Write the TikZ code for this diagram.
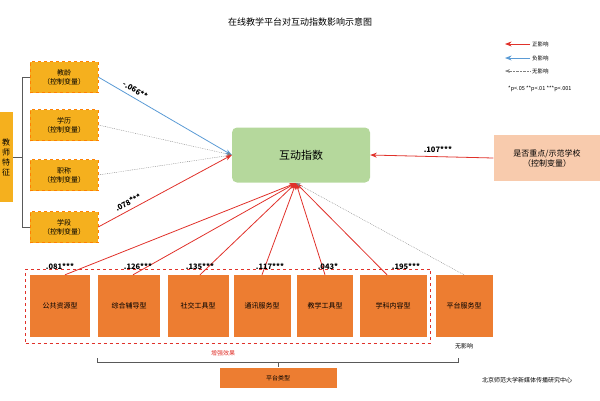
\documentclass[tikz,border=0pt]{standalone}
\usepackage{fontspec}
\setmainfont{Noto Sans CJK SC}
\usetikzlibrary{arrows.meta}
\definecolor{zhengred}{HTML}{E0312A}
\definecolor{fublue}{HTML}{5B9BD5}
\definecolor{gold}{HTML}{F5B01E}
\definecolor{cheng}{HTML}{ED7D31}
\definecolor{lvse}{HTML}{B5D89C}
\definecolor{fenju}{HTML}{F8CBAD}

\begin{document}
\begin{tikzpicture}[x=1pt,y=-1pt]
    \useasboundingbox (0,0) rectangle (600,400);
    \node (title) at (300,22) {\fontsize{9}{11}\selectfont 在线教学平台对互动指数影响示意图};
    % legend
    \coordinate (lp1) at (530,44); \coordinate (lp0) at (505,44);
    \coordinate (lb1) at (530,58); \coordinate (lb0) at (505,58);
    \coordinate (ln1) at (530,71); \coordinate (ln0) at (505,71);
    \draw [-{Stealth}, zhengred, thick] (lp1) -- (lp0);
    \draw [-{Stealth}, fublue, thick] (lb1) -- (lb0);
    \draw [-{Stealth}, gray, densely dotted] (ln1) -- (ln0);
    \begin{scope}[every node/.style={anchor=west,inner sep=1pt,font=\fontsize{5.5}{6}\selectfont}]
        \node (zheng) at (531,44) {正影响};
        \node (fu) at (531,58) {负影响};
        \node (wu) at (531,71) {无影响};
        \node (pval) at (507,89) {*p<.05 **p<.01 ***p<.001};
    \end{scope}

    \begin{scope}[every node/.style={draw=orange,dashed,fill=gold,
        minimum width=68,minimum height=31,align=center,font=\fontsize{7}{9}\selectfont}]
        \node (jiaoling) at (64,77) {教龄\\（控制变量）};
        \node (xueli) at (64,125) {学历\\（控制变量）};
        \node (zhicheng) at (64,175) {职称\\（控制变量）};
        \node (xueduan) at (64,227) {学段\\（控制变量）};
    \end{scope}
    \node [fill=gold,minimum width=14,minimum height=90,inner sep=0,
        font=\fontsize{8}{10}\selectfont,align=center] (tezheng) at (6,157) {教\\师\\特\\征};
    \coordinate (kt) at (22,77); \coordinate (kb) at (22,227); \coordinate (km) at (22,157);
    \draw [gray!70!black] (jiaoling.west) -- (kt) -- (kb) -- (xueduan.west);
    \draw [gray!70!black] (km) -- (tezheng.east);

    \node [rounded corners=5,fill=lvse,minimum width=138,minimum height=55,
        font=\fontsize{11}{13}\selectfont] (hudong) at (301,155) {互动指数};
    \node [fill=fenju,minimum width=107,minimum height=46,align=center,
        font=\fontsize{8}{10}\selectfont] (zhongdian) at (547,158) {是否重点/示范学校\\（控制变量）};

    \begin{scope}[every node/.style={fill=cheng,minimum height=62,
        font=\fontsize{7}{9}\selectfont}]
        \node [minimum width=60] (gonggong) at (60,306) {公共资源型};
        \node [minimum width=62] (zonghe) at (129,306) {综合辅导型};
        \node [minimum width=61] (shejiao) at (198,306) {社交工具型};
        \node [minimum width=57] (tongxun) at (262,306) {通讯服务型};
        \node [minimum width=56] (jiaoxue) at (325,306) {教学工具型};
        \node [minimum width=67] (xueke) at (393,306) {学科内容型};
        \node [minimum width=57] (pingtai) at (464,306) {平台服务型};
    \end{scope}
    \node [draw=zhengred,dashed,thick,minimum width=405,minimum height=74] (zengqiang) at (228,306) {};
    \node [zhengred,font=\fontsize{6}{7}\selectfont] (xiaoguo) at (223,353) {增强效果};
    \node [font=\fontsize{6}{7}\selectfont] (wuying) at (464,346) {无影响};
    \coordinate (bl) at (97,358); \coordinate (br) at (458,358);
    \coordinate (bl1) at (97,362); \coordinate (br1) at (458,362);
    \coordinate (bm) at (278,362); \coordinate (bm1) at (278,367);
    \draw [gray!70!black] (bl) -- (bl1) -- (br1) -- (br) (bm) -- (bm1);
    \node [fill=cheng,minimum width=117,minimum height=20,
        font=\fontsize{6}{7}\selectfont] (leixing) at (278,378) {平台类型};
    \node [font=\fontsize{6}{7}\selectfont] (beishi) at (527,380) {北京师范大学新媒体传播研究中心};

    \coordinate (hb) at (296,183);
    \begin{scope}[>={Stealth}, every node/.style={font=\fontsize{7.5}{9}\selectfont\bfseries,inner sep=4pt},
        every edge/.style={draw=zhengred,thick}]
        \path [->] (jiaoling.east) edge[draw=fublue] node[above,sloped,pos=0.25] {-.066**} (hudong.west);
        \path [->] (xueli.east) edge[draw=gray,densely dotted,thin] (hudong.west);
        \path [->] (zhicheng.east) edge[draw=gray,densely dotted,thin] (hudong.west);
        \path [->] (xueduan.east) edge node[above,sloped,pos=0.25] {.078***} (hudong.west);
        \path [->] (zhongdian.west) edge node[above,pos=0.45] {.107***} (hudong.east);
        \path [->] ([xshift=5]gonggong.north) edge (hb);
        \path [->] ([xshift=4]zonghe.north) edge (hb);
        \path [->] ([xshift=2]shejiao.north) edge (hb);
        \path [->] (tongxun.north) edge (hb);
        \path [->] (jiaoxue.north) edge (hb);
        \path [->] ([xshift=-6]xueke.north) edge (hb);
        \path [->] (pingtai.north) edge[draw=gray,densely dotted,thin] (hb);
    \end{scope}
    \begin{scope}[every node/.style={font=\fontsize{7.5}{9}\selectfont\bfseries}]
        \node (g1) at (60,266) {.081***};
        \node (g2) at (138,266) {.126***};
        \node (g3) at (200,266) {.135***};
        \node (g4) at (270,266) {.117***};
        \node (g5) at (328,266) {.043*};
        \node (g6) at (406,266) {.195***};
    \end{scope}
\end{tikzpicture}
\end{document}
